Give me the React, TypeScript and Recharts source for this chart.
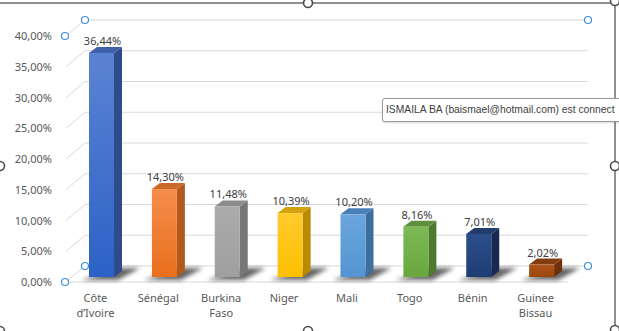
import React from "react";
import { BarChart, Bar, XAxis, YAxis, CartesianGrid, LabelList } from "recharts";

const countries: string[][] = [
  ["Côte", "d’Ivoire"],
  ["Sénégal"],
  ["Burkina", "Faso"],
  ["Niger"],
  ["Mali"],
  ["Togo"],
  ["Bénin"],
  ["Guinee", "Bissau"],
];
const shares: number[] = [0.3644, 0.143, 0.1148, 0.1039, 0.102, 0.0816, 0.0701, 0.0202];
const yTicks: number[] = [0, 0.05, 0.1, 0.15, 0.2, 0.25, 0.3, 0.35, 0.4];
const frontTop: string[] = ["#5b83d3", "#f58d4c", "#ababab", "#ffca2e", "#6aa6dd", "#7db957", "#2c4f8c", "#b0541a"];
const frontBottom: string[] = ["#2c62c6", "#e86f1c", "#9f9f9f", "#fdc000", "#5495d2", "#68a83d", "#1f3d75", "#9c450b"];
const sideColors: string[] = ["#2e4c8c", "#b25a1d", "#777777", "#b88a00", "#3d6e9c", "#4c7a2e", "#17294e", "#6e300a"];
const topColors: string[] = ["#3f5fa8", "#c96a2a", "#8c8c8c", "#d4a20e", "#4a80b8", "#5d8f3c", "#223c6e", "#853c10"];
const tooltipText = "ISMAILA BA (baismael@hotmail.com) est connect";

const data = countries.map((c, i) => ({ name: c.join(" "), lines: c, value: shares[i] }));

const FONT = "'Noto Sans', sans-serif";
const DX = 8;
const DY = 6;
const fmt = (v: number) => (v * 100).toFixed(2).replace(".", ",") + "%";

const Bar3D = (props: any) => {
  const { x, y, width, height, index } = props;
  const bottom = y + height;
  const xr = x + width;
  const gid = `barGrad${index}`;
  const fid = `barShadow${index}`;
  return (
    <g>
      <defs>
        <linearGradient id={gid} x1="0" y1="0" x2="0" y2="1">
          <stop offset="0%" stopColor={frontTop[index]} />
          <stop offset="100%" stopColor={frontBottom[index]} />
        </linearGradient>
        <filter id={fid} x="-50%" y="-50%" width="200%" height="200%">
          <feGaussianBlur stdDeviation="2" />
        </filter>
      </defs>
      <polygon
        points={`${x - 8},${bottom + 3} ${xr + 4},${bottom + 3} ${xr + DX + 18},${bottom - 9} ${xr + DX - 2},${bottom - 9}`}
        fill="#000"
        opacity={0.6}
        filter={`url(#${fid})`}
      />
      <polygon
        points={`${xr},${y} ${xr + DX},${y - DY} ${xr + DX},${bottom - DY} ${xr},${bottom}`}
        fill={sideColors[index]}
      />
      <polygon
        points={`${x},${y} ${x + DX},${y - DY} ${xr + DX},${y - DY} ${xr},${y}`}
        fill={topColors[index]}
      />
      <rect x={x} y={y} width={width} height={height} fill={`url(#${gid})`} />
    </g>
  );
};

const GridLine = (props: any) => {
  const { x1, x2, y1, index } = props;
  const last = yTicks.length - 1;
  const bx1 = x1 + 15;
  const bx2 = x2 + 15;
  const by = y1 - 11;
  const fx = x1 - 4;
  const fy = y1 + 5;
  const isEnd = index === 0 || index === last;
  return (
    <g key={`gl${index}`}>
      <line x1={bx1} y1={by} x2={bx2} y2={by} stroke="#d9d9d9" strokeWidth={1} />
      <line x1={fx} y1={fy} x2={bx1} y2={by} stroke="#d9d9d9" strokeWidth={1} />
      {index === 0 && <line x1={fx} y1={fy} x2={x2 - 5} y2={fy} stroke="#d9d9d9" strokeWidth={1} />}
      {isEnd && (
        <g fill="#fff" stroke="#3d8ee0" strokeWidth={1.2}>
          <circle cx={fx - 1} cy={fy} r={3.5} />
          <circle cx={bx1} cy={by} r={3.5} />
          <circle cx={bx2} cy={by} r={3.5} />
        </g>
      )}
    </g>
  );
};

const YTick = (props: any) => {
  const { x, y, payload } = props;
  return (
    <text x={x - 18} y={y + 9} textAnchor="end" fontSize={11} fontFamily={FONT} fill="#595959">
      {fmt(payload.value)}
    </text>
  );
};

const XTick = (props: any) => {
  const { x, y, index } = props;
  const lines = countries[index] || [];
  return (
    <text textAnchor="middle" fontSize={11} fontFamily={FONT} fill="#595959">
      {lines.map((l, i) => (
        <tspan key={i} x={x - 6} y={y + 25 + i * 15}>
          {l}
        </tspan>
      ))}
    </text>
  );
};

const ValueLabel = (props: any) => {
  const { x, y, width, value } = props;
  return (
    <text x={x + width / 2 + 1} y={y - 8} textAnchor="middle" fontSize={11} fontFamily={FONT} fill="#404040">
      {fmt(value)}
    </text>
  );
};

export default function App() {
  return (
    <div
      style={{
        position: "absolute",
        left: 0,
        top: 0,
        width: 619,
        height: 331,
        overflow: "hidden",
        background: "#fff",
      }}
    >
      <BarChart
        width={619}
        height={331}
        data={data}
        margin={{ top: 31, right: 46, left: 0, bottom: 0 }}
        barCategoryGap={0}
      >
        <CartesianGrid vertical={false} horizontal={GridLine as any} />
        <YAxis
          domain={[0, 0.4]}
          ticks={yTicks}
          width={70}
          axisLine={false}
          tickLine={false}
          tickSize={0}
          tickMargin={0}
          tick={YTick}
          interval={0}
        />
        <XAxis
          dataKey="name"
          height={54}
          axisLine={false}
          tickLine={false}
          tickSize={0}
          tickMargin={0}
          tick={XTick}
          interval={0}
        />
        <Bar dataKey="value" barSize={25} shape={Bar3D} isAnimationActive={false}>
          <LabelList dataKey="value" content={ValueLabel} />
        </Bar>
      </BarChart>
      <svg
        width={619}
        height={331}
        style={{ position: "absolute", left: 0, top: 0, pointerEvents: "none" }}
      >
        <line x1={0} y1={3} x2={615} y2={3} stroke="#6b6b6b" strokeWidth={1.5} />
        <line x1={615} y1={0} x2={615} y2={331} stroke="#6b6b6b" strokeWidth={1.5} />
        <g fill="#fff" stroke="#4a4a4a" strokeWidth={1.6}>
          <circle cx={308} cy={3} r={4.5} />
          <circle cx={615} cy={1} r={4.5} />
          <circle cx={615} cy={166} r={4.5} />
          <circle cx={615} cy={330} r={4.5} />
          <circle cx={308} cy={331} r={4.5} />
          <circle cx={0} cy={166} r={4.5} />
          <circle cx={0} cy={331} r={4.5} />
        </g>
      </svg>
      <div
        style={{
          position: "absolute",
          left: 382,
          top: 98,
          width: 245,
          height: 22,
          border: "1px solid #9a9a9a",
          borderRadius: 3,
          background: "#fff",
          padding: "0 3px",
          fontFamily: "'Liberation Sans', Arial, sans-serif",
          fontSize: 10.3,
          lineHeight: "22px",
          color: "#404040",
          whiteSpace: "nowrap",
          boxShadow: "0 1px 2px rgba(0,0,0,0.15)",
        }}
      >
        {tooltipText}
      </div>
    </div>
  );
}
